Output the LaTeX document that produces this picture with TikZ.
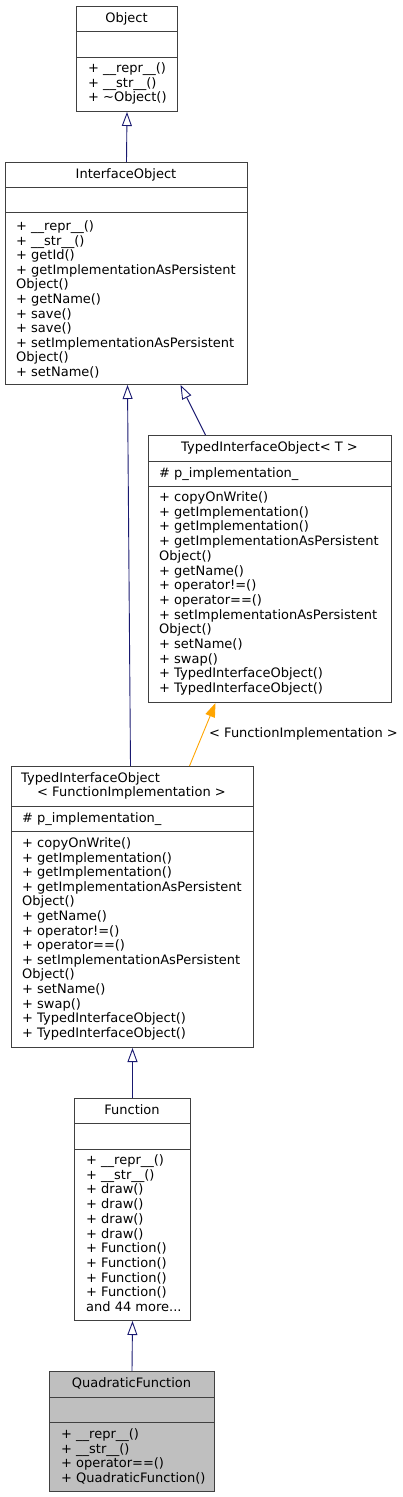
\documentclass[tikz,border=0pt]{standalone}
\usepackage{fontspec}
\setmainfont{DejaVu Sans}
\usetikzlibrary{arrows.meta}
\definecolor{edgeblue}{RGB}{25,25,112}
\definecolor{edgeorange}{RGB}{255,165,0}
\definecolor{boxgray}{RGB}{191,191,191}

\begin{document}
\begin{tikzpicture}[
    x=1pt, y=-1pt,
    box/.style={draw=black!75, line width=1pt, fill=white, inner sep=0pt, anchor=north west},
    divider/.style={draw=black!75, line width=1pt},
    title/.style={anchor=base, inner sep=0pt, font=\fontsize{13}{15}\selectfont},
    member/.style={anchor=base west, inner sep=0pt, font=\fontsize{13}{15}\selectfont},
    inherit/.style={draw=edgeblue, line width=0.9pt, -{Triangle[open, length=14pt, width=10pt]}},
    template/.style={draw=edgeorange, line width=0.9pt, -{Triangle[length=14pt, width=10pt]}}
]
\useasboundingbox (0,0) rectangle (403,1497);

% Object
\node[box, minimum width=101pt, minimum height=105pt] (object) at (76,6) {};
\draw[divider] ([yshift=-25pt]object.north west) -- ([yshift=-25pt]object.north east);
\draw[divider] ([yshift=-51pt]object.north west) -- ([yshift=-51pt]object.north east);
\node[title] (object-t) at (126.5,22) {Object};
\foreach \m [count=\i from 0] in {+ \_\_repr\_\_(), + \_\_str\_\_(), + \textasciitilde Object()}
    \node[member] (object-m\i) at (88,72.5+14.6*\i) {\m};

% InterfaceObject
\node[box, minimum width=242pt, minimum height=222pt] (iface) at (5,162) {};
\draw[divider] ([yshift=-25pt]iface.north west) -- ([yshift=-25pt]iface.north east);
\draw[divider] ([yshift=-50pt]iface.north west) -- ([yshift=-50pt]iface.north east);
\node[title] (iface-t) at (126,178.5) {InterfaceObject};
\foreach \m [count=\i from 0] in {+ \_\_repr\_\_(), + \_\_str\_\_(), + getId(),
    + getImplementationAsPersistent, Object(), + getName(), + save(), + save(),
    + setImplementationAsPersistent, Object(), + setName()}
    \node[member] (iface-m\i) at (16,230.5+14.6*\i) {\m};

% TypedInterfaceObject< T >
\node[box, minimum width=243pt, minimum height=267pt] (tiot) at (148,435) {};
\draw[divider] ([yshift=-26pt]tiot.north west) -- ([yshift=-26pt]tiot.north east);
\draw[divider] ([yshift=-51pt]tiot.north west) -- ([yshift=-51pt]tiot.north east);
\node[title] (tiot-t) at (269.5,451.5) {TypedInterfaceObject< T >};
\node[member] (tiot-a) at (159,477.5) {\# p\_implementation\_};
\foreach \m [count=\i from 0] in {+ copyOnWrite(), + getImplementation(), + getImplementation(),
    + getImplementationAsPersistent, Object(), + getName(), + operator!=(), + operator==(),
    + setImplementationAsPersistent, Object(), + setName(), + swap(),
    + TypedInterfaceObject(), + TypedInterfaceObject()}
    \node[member] (tiot-m\i) at (159,501.5+14.7*\i) {\m};

% TypedInterfaceObject< FunctionImplementation >
\node[box, minimum width=242pt, minimum height=281pt] (tiofi) at (11,766) {};
\draw[divider] ([yshift=-40pt]tiofi.north west) -- ([yshift=-40pt]tiofi.north east);
\draw[divider] ([yshift=-65pt]tiofi.north west) -- ([yshift=-65pt]tiofi.north east);
\node[member] (tiofi-t1) at (21,782.5) {TypedInterfaceObject};
\node[title] (tiofi-t2) at (131.5,796.5) {< FunctionImplementation >};
\node[member] (tiofi-a) at (22,822.5) {\# p\_implementation\_};
\foreach \m [count=\i from 0] in {+ copyOnWrite(), + getImplementation(), + getImplementation(),
    + getImplementationAsPersistent, Object(), + getName(), + operator!=(), + operator==(),
    + setImplementationAsPersistent, Object(), + setName(), + swap(),
    + TypedInterfaceObject(), + TypedInterfaceObject()}
    \node[member] (tiofi-m\i) at (22,847.5+14.6*\i) {\m};

% Function
\node[box, minimum width=116pt, minimum height=222pt] (func) at (74,1098) {};
\draw[divider] ([yshift=-25pt]func.north west) -- ([yshift=-25pt]func.north east);
\draw[divider] ([yshift=-51pt]func.north west) -- ([yshift=-51pt]func.north east);
\node[title] (func-t) at (132,1114.5) {Function};
\foreach \m [count=\i from 0] in {+ \_\_repr\_\_(), + \_\_str\_\_(), + draw(), + draw(),
    + draw(), + draw(), + Function(), + Function(), + Function(), + Function(), and 44 more.{}.{}.}
    \node[member] (func-m\i) at (86,1164.5+14.7*\i) {\m};

% QuadraticFunction
\node[box, fill=boxgray, minimum width=165pt, minimum height=120pt] (quad) at (49,1371) {};
\draw[divider] ([yshift=-26pt]quad.north west) -- ([yshift=-26pt]quad.north east);
\draw[divider] ([yshift=-51pt]quad.north west) -- ([yshift=-51pt]quad.north east);
\node[title] (quad-t) at (131.5,1387.5) {QuadraticFunction};
\foreach \m [count=\i from 0] in {+ \_\_repr\_\_(), + \_\_str\_\_(), + operator==(), + QuadraticFunction()}
    \node[member] (quad-m\i) at (61,1438.5+14.5*\i) {\m};

% edges
\draw[inherit] (iface.north) -- (object.south);
\draw[inherit] ([xshift=-2pt]tiofi.north) -- ([xshift=1pt]iface.south);
\draw[inherit] ([xshift=-64.5pt]tiot.north) -- ([xshift=54pt]iface.south);
\draw[template] ([xshift=57pt]tiofi.north) -- ([xshift=-54.5pt]tiot.south);
\node[member] (tmpl-label) at (209,737.5) {< FunctionImplementation >};
\draw[inherit] (func.north) -- (tiofi.south);
\draw[inherit] (quad.north) -- (func.south);

\end{tikzpicture}
\end{document}
